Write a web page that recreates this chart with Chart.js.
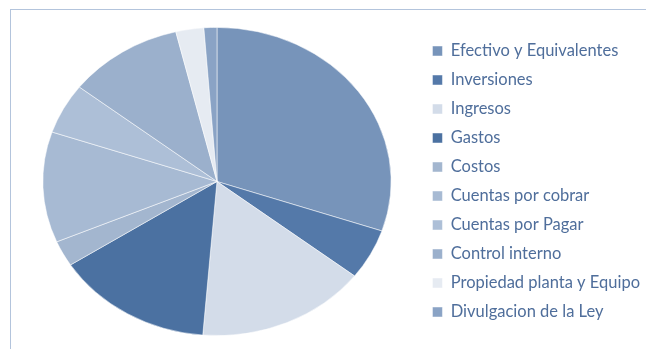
<!DOCTYPE html>
<html>
<head>
<meta charset="utf-8">
<script src="https://cdn.jsdelivr.net/npm/chart.js@4"></script>
<style>
  html, body { margin: 0; padding: 0; background: #fff; overflow: hidden; }
  #wrap { position: relative; width: 646px; height: 349px; }
  #frame {
    position: absolute; left: 10px; top: 9px; right: -5px; bottom: -5px;
    border-left: 1px solid #b3c4dc; border-top: 1px solid #b3c4dc;
  }
  #chart { position: absolute; left: 0; top: 0; }
</style>
</head>
<body>
<div id="wrap">
  <div id="frame"></div>
  <canvas id="chart" width="646" height="349"></canvas>
</div>
<script>
const categories = [
  "Efectivo y Equivalentes",
  "Inversiones",
  "Ingresos",
  "Gastos",
  "Costos",
  "Cuentas por cobrar",
  "Cuentas por Pagar",
  "Control interno",
  "Propiedad planta y Equipo",
  "Divulgacion de la Ley",
];
const shares = [30.2, 5.3, 15.8, 14.6, 2.7, 11.6, 5.3, 10.7, 2.6, 1.2];
const sliceColors = [
  "#7794ba", "#5479a9", "#d3dce9", "#4b71a1", "#a3b6cf",
  "#a7bad3", "#adbfd7", "#9bb0cc", "#e6ebf2", "#8aa3c5",
];

// stretch the pie sideways so it comes out as an oval
const ovalPie = {
  id: "ovalPie",
  beforeDatasetsDraw(chart) {
    const { ctx, chartArea } = chart;
    const cx = (chartArea.left + chartArea.right) / 2;
    const cy = (chartArea.top + chartArea.bottom) / 2;
    ctx.save();
    ctx.translate(cx, cy);
    ctx.scale(chart.options.plugins.ovalPie.stretch, 1);
    ctx.translate(-cx, -cy);
  },
  afterDatasetsDraw(chart) {
    chart.ctx.restore();
  },
};

new Chart(document.getElementById("chart"), {
  type: "pie",
  data: {
    labels: categories,
    datasets: [{
      data: shares,
      backgroundColor: sliceColors,
      borderColor: "rgba(255, 255, 255, 0.6)",
      borderWidth: 0.8,
    }],
  },
  options: {
    responsive: false,
    animation: false,
    layout: {
      padding: { top: 27, bottom: 13, left: 14, right: -4 },
    },
    plugins: {
      ovalPie: { stretch: 1.13 },
      tooltip: { enabled: false },
      legend: {
        position: "right",
        labels: {
          boxWidth: 10,
          boxHeight: 10,
          padding: 12.5,
          color: "#4f6e9b",
          font: { family: "Lato", size: 16.5 },
        },
      },
    },
  },
  plugins: [ovalPie],
});
</script>
</body>
</html>
